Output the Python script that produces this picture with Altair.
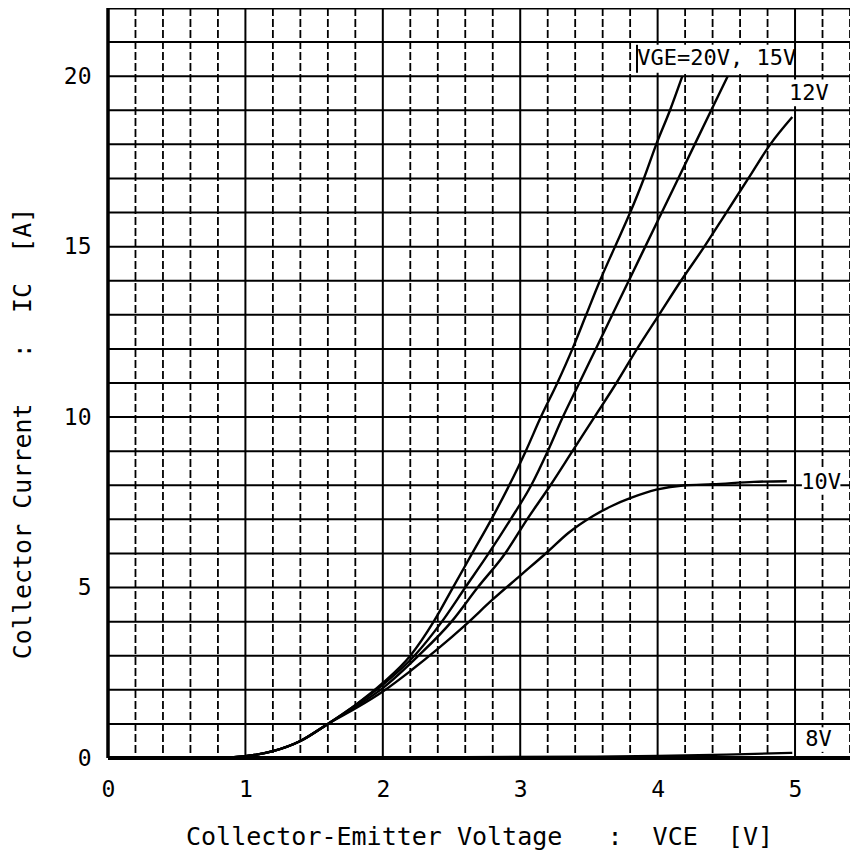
import altair as alt
import pandas as pd

FONT = "DejaVu Sans Mono"
SP = "\u00a0"

# ---- data ----
VCE_20 = [0.8, 1.0, 1.2, 1.4, 1.6, 1.8, 2.0, 2.2, 2.37, 2.51, 2.65, 2.79, 2.92, 3.04, 3.15,
          3.27, 3.38, 3.48, 3.58, 3.69, 3.80, 3.90, 3.99, 4.09, 4.18]
IC_20 = [0, 0.05, 0.2, 0.5, 1.0, 1.55, 2.2, 3, 4, 5, 6, 7, 8, 9, 10,
         11, 12, 13, 14, 15, 16, 17, 18, 19, 20]

VCE_15 = [0.8, 1.0, 1.2, 1.4, 1.6, 1.8, 2.0, 2.23, 2.43, 2.6, 2.77, 2.93, 3.08, 3.2, 3.31,
          3.43, 3.55, 3.67, 3.79, 3.91, 4.03, 4.15, 4.27, 4.39, 4.51]
IC_15 = [0, 0.05, 0.2, 0.5, 1.0, 1.55, 2.15, 3, 4, 5, 6, 7, 8, 9, 10,
         11, 12, 13, 14, 15, 16, 17, 18, 19, 20]

VCE_12 = [0.8, 1.0, 1.2, 1.4, 1.6, 1.8, 2.0, 2.26, 2.5, 2.69, 2.89, 3.05, 3.22, 3.38, 3.54,
          3.7, 3.85, 4.01, 4.17, 4.34, 4.5, 4.66, 4.82, 4.98]
IC_12 = [0, 0.05, 0.2, 0.5, 1.0, 1.5, 2.05, 3, 4, 5, 6, 7, 8, 9, 10,
         11, 12, 13, 14, 15, 16, 17, 18, 18.8]

VCE_10 = [0.8, 1.0, 1.2, 1.4, 1.6, 1.8, 2.0, 2.2, 2.4, 2.6, 2.8, 3.0, 3.2, 3.35, 3.53,
          3.67, 3.8, 3.99, 4.2, 4.4, 4.7, 4.94]
IC_10 = [0, 0.05, 0.2, 0.5, 1.0, 1.45, 1.95, 2.55, 3.2, 3.9, 4.65, 5.35, 6.05, 6.6, 7.1,
         7.4, 7.62, 7.87, 8.0, 8.03, 8.1, 8.12]

VCE_8 = [0.8, 1.5, 2.5, 3.5, 4.0, 4.5, 4.98]
IC_8 = [0, 0.01, 0.02, 0.04, 0.06, 0.1, 0.15]

SERIES = ["20V", "15V", "12V", "10V", "8V"]

LABEL_TEXT = ["VGE=20V," + SP + "15V", "12V", "10V", "8V"]
LABEL_V = [4.43, 5.10, 5.19, 5.17]
LABEL_I = [20.52, 19.5, 8.1, 0.55]
BOX_V1 = [3.85, 4.96, 5.05, 5.06]
BOX_V2 = [4.985, 5.24, 5.33, 5.28]
BOX_I1 = [20.1, 19.12, 7.72, 0.18]
BOX_I2 = [20.92, 19.9, 8.45, 0.9]

X_MAX = 5.4
Y_MAX = 22
X_TICKS = [0, 1, 2, 3, 4, 5]
Y_TICKS = [0, 5, 10, 15, 20]
X_MINOR = [0.2, 0.4, 0.6, 0.8, 1.2, 1.4, 1.6, 1.8, 2.2, 2.4, 2.6, 2.8, 3.2, 3.4, 3.6, 3.8,
           4.2, 4.4, 4.6, 4.8, 5.2, 5.4]
Y_GRID = list(range(0, 23))

X_TITLE = "Collector-Emitter" + SP + "Voltage" + SP * 3 + ":" + SP * 2 + "VCE" + SP * 2 + "[V]"
Y_TITLE = "Collector" + SP + "Current" + SP * 3 + ":" + SP * 2 + "IC" + SP * 2 + "[A]"

# ---- tables ----
rows = []
for name, xs, ys in zip(SERIES, [VCE_20, VCE_15, VCE_12, VCE_10, VCE_8],
                        [IC_20, IC_15, IC_12, IC_10, IC_8]):
    for x, y in zip(xs, ys):
        rows.append({"series": name, "V": x, "I": y})
curves = pd.DataFrame(rows)

labels = pd.DataFrame({"text": LABEL_TEXT, "V": LABEL_V, "I": LABEL_I,
                       "V1": BOX_V1, "V2": BOX_V2, "I1": BOX_I1, "I2": BOX_I2})

xscale = alt.Scale(domain=[0, X_MAX], nice=False, zero=False)
yscale = alt.Scale(domain=[0, Y_MAX], nice=False, zero=False)

xaxis = alt.Axis(
    values=X_TICKS, format="d",
    labelFlush=False, labelOverlap=False, ticks=False, domain=False, grid=False,
    labelFont=FONT, labelFontSize=23, labelColor="black", labelPadding=20,
    title=X_TITLE, titleFont=FONT, titleFontSize=25, titleFontWeight="normal",
    titleColor="black", titleBaseline="alphabetic", titleY=86,
)
yaxis = alt.Axis(
    values=Y_TICKS, format="d",
    labelOverlap=False, ticks=False, domain=False, grid=False,
    labelFont=FONT, labelFontSize=23, labelColor="black", labelPadding=17,
    title=Y_TITLE, titleFont=FONT, titleFontSize=25, titleFontWeight="normal",
    titleColor="black", titleBaseline="middle", titleAngle=270,
    titleX=-86, titleY=425,
)

hgrid = alt.Chart(pd.DataFrame({"g": Y_GRID})).mark_rule(color="black", strokeWidth=2).encode(
    y=alt.Y("g:Q", scale=yscale))
vmajor = alt.Chart(pd.DataFrame({"g": X_TICKS})).mark_rule(color="black", strokeWidth=2).encode(
    x=alt.X("g:Q", scale=xscale))
vminor = alt.Chart(pd.DataFrame({"g": X_MINOR})).mark_rule(
    color="black", strokeWidth=1.8, strokeDash=[8, 3]).encode(x=alt.X("g:Q", scale=xscale))

lines = alt.Chart(curves).mark_line(color="black", strokeWidth=2.4, interpolate="monotone").encode(
    x=alt.X("V:Q", scale=xscale, axis=xaxis),
    y=alt.Y("I:Q", scale=yscale, axis=yaxis),
    detail="series:N",
)

boxes = alt.Chart(labels).mark_rect(color="white").encode(
    x=alt.X("V1:Q", scale=xscale), x2="V2:Q",
    y=alt.Y("I1:Q", scale=yscale), y2="I2:Q",
)

texts = alt.Chart(labels).mark_text(font=FONT, fontSize=22, color="black",
                                    align="center", baseline="middle").encode(
    x=alt.X("V:Q", scale=xscale),
    y=alt.Y("I:Q", scale=yscale),
    text="text:N",
)

vge_bar = alt.Chart(labels.iloc[:1]).mark_rule(color="black", strokeWidth=2).encode(
    x=alt.X("V1:Q", scale=xscale),
    y=alt.Y("I1:Q", scale=yscale), y2="I2:Q",
)

frame_df = pd.DataFrame({"x0": [0], "y0": [0], "ytop": [Y_MAX]})
left_border = alt.Chart(frame_df).mark_rule(color="black", strokeWidth=3.5).encode(
    x=alt.X("x0:Q", scale=xscale))
bottom_border = alt.Chart(frame_df).mark_rule(color="black", strokeWidth=4).encode(
    y=alt.Y("y0:Q", scale=yscale))
top_border = alt.Chart(frame_df).mark_rule(color="black", strokeWidth=3).encode(
    y=alt.Y("ytop:Q", scale=yscale))

chart = alt.layer(lines, hgrid, vmajor, vminor, boxes, texts, vge_bar,
                  left_border, bottom_border, top_border).properties(
    width=742, height=750,
    autosize=alt.AutoSizeParams(type="none"),
    padding={"left": 100, "top": 0, "right": 0, "bottom": 94},
    background="white",
).configure_view(stroke=None)

chart.save("out.html", embed_options={"renderer": "svg", "actions": False})
